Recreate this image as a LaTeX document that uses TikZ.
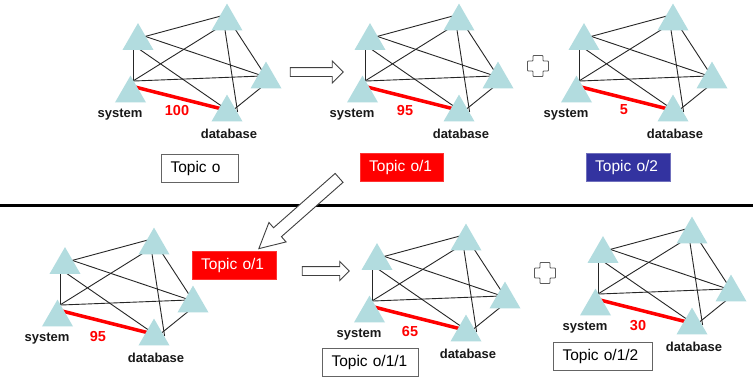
\documentclass[tikz,border=0pt]{standalone}
\usepackage{fontspec}
\setmainfont{Liberation Sans}
\usetikzlibrary{shapes.geometric,shapes.arrows}
\definecolor{tricol}{RGB}{178,220,223}
\definecolor{topicblue}{RGB}{51,51,160}
\definecolor{boxgray}{RGB}{100,100,100}
\tikzset{
  tri/.style={regular polygon, regular polygon sides=3, minimum size=35.8pt, inner sep=0pt, fill=tricol, draw=none},
  netline/.style={draw=black!85, line width=0.9pt},
  rededge/.style={draw=red, line width=3.5pt},
  lbl/.style={font=\fontsize{13}{15}\selectfont\bfseries, text=black!90, inner sep=0pt},
  num/.style={font=\fontsize{14.5}{16}\selectfont\bfseries, text=red, inner sep=0pt},
  topic/.style={font=\fontsize{15.5}{18}\selectfont, minimum height=28pt, inner xsep=9pt, inner ysep=0pt, align=left, anchor=west},
  topicw/.style={topic, draw=boxgray, line width=1pt, fill=white, text=black},
  topicr/.style={topic, fill=red, draw=red!80!white, text=white},
  topicb/.style={topic, fill=topicblue, draw=topicblue!70!white, text=white},
  hollow/.style={single arrow, draw=black!75, fill=white, line width=0.9pt, inner xsep=0pt},
  plusst/.style={draw=black!65, fill=white, line width=0.9pt, rounded corners=0.8pt},
}
\newcommand\netgraph[5]{% #1 prefix, #2 dx, #3 dy, #4 number, #5 number position (absolute)
\begin{scope}[shift={(#2,#3)}]
  % ports
  \coordinate (#1SA) at (133,85);    \coordinate (#1AS) at (133,45);
  \coordinate (#1ST) at (129.6,83.1);\coordinate (#1TS) at (221.4,25.9);
  \coordinate (#1SR) at (129,81.2);  \coordinate (#1RS) at (267,75.8);
  \coordinate (#1SD) at (134.1,86.8);\coordinate (#1DS) at (222.9,109.2);
  \coordinate (#1AT) at (143.1,37);  \coordinate (#1TA) at (220.9,16);
  \coordinate (#1AR) at (143.2,35.7);\coordinate (#1RA) at (263.8,76.3);
  \coordinate (#1AD) at (135.7,46.7);\coordinate (#1DA) at (226.3,109.3);
  \coordinate (#1TD) at (224.4,26);  \coordinate (#1DT) at (237.6,112);
  \coordinate (#1TR) at (232.8,25.6);\coordinate (#1RT) at (265.2,75.4);
  \coordinate (#1RD) at (266.1,83.5);\coordinate (#1DR) at (233.9,109.5);
  % connectors
  \draw[netline] (#1SA) -- (#1AS);
  \draw[netline] (#1ST) -- (#1TS);
  \draw[netline] (#1SR) -- (#1RS);
  \draw[netline] (#1AT) -- (#1TA);
  \draw[netline] (#1AR) -- (#1RA);
  \draw[netline] (#1AD) -- (#1DA);
  \draw[netline] (#1TD) -- (#1DT);
  \draw[netline] (#1TR) -- (#1RT);
  \draw[netline] (#1RD) -- (#1DR);
  \draw[rededge] (#1SD) -- (#1DS);
  % nodes
  \node[tri] (#1A) at (138,41) {};
  \node[tri] (#1T) at (227,21.5) {};
  \node[tri] (#1R) at (266,79.5) {};
  \node[tri] (#1D) at (227,112.5) {};
  \node[tri] (#1S) at (130.5,93.5) {};
  \node[lbl] (#1sys) at (120,115) {system};
  \node[lbl] (#1db) at (229,134) {database};
\end{scope}
\node[num] (#1num) at #5 {#4};
}
\begin{document}
\begin{tikzpicture}[x=1pt,y=-1pt]
\useasboundingbox (0,0) rectangle (753,378);
\fill[white] (0,0) rectangle (753,378);

% separator
\coordinate (sepL) at (0,205);
\coordinate (sepR) at (753,205);
\draw[line width=3pt, black] (sepL) -- (sepR);

% graphs
\netgraph{ga}{0}{0}{100}{(177,111)}
\netgraph{gb}{232}{0}{95}{(405,111)}
\netgraph{gc}{446}{0}{5}{(624,110)}
\netgraph{gd}{-73}{224}{95}{(98,337)}
\netgraph{ge}{239}{220}{65}{(410,332)}
\netgraph{gf}{465}{213}{30}{(638,326)}

% topic boxes
\node[topicw, text width=59pt] (t0) at (161,168) {Topic o};
\node[topicr, text width=65pt] (t1) at (360,167) {Topic o/1};
\node[topicb, text width=66pt] (t2) at (586,167) {Topic o/2};
\node[topicr, text width=66pt] (t1b) at (192,265) {Topic o/1};
\node[topicw, text width=78pt] (t11) at (322,362.5) {Topic o/1/1};
\node[topicw, text width=81pt] (t12) at (553,356) {Topic o/1/2};

% hollow arrows
\node[hollow, minimum height=53pt, inner ysep=4pt, single arrow head extend=6.5pt] (arrTop) at (314.5,72) {};
\node[hollow, minimum height=107pt, inner ysep=5.5pt, single arrow head extend=7pt, single arrow tip angle=55, rotate=221.4] (arrDiag) at (303.25,209.5) {};
\node[hollow, minimum height=47pt, inner ysep=4pt, single arrow head extend=5pt] (arrBot) at (323.5,271) {};

% plus signs
\coordinate (plusTop) at (538,66);
\coordinate (plusBot) at (545,273);
\draw[plusst] (plusTop) ++(-5,-10.5) -- ++(10,0) -- ++(0,5.5) -- ++(5.5,0) -- ++(0,10) -- ++(-5.5,0) -- ++(0,5.5) -- ++(-10,0) -- ++(0,-5.5) -- ++(-5.5,0) -- ++(0,-10) -- ++(5.5,0) -- cycle;
\draw[plusst] (plusBot) ++(-5,-10.5) -- ++(10,0) -- ++(0,5.5) -- ++(5.5,0) -- ++(0,10) -- ++(-5.5,0) -- ++(0,5.5) -- ++(-10,0) -- ++(0,-5.5) -- ++(-5.5,0) -- ++(0,-10) -- ++(5.5,0) -- cycle;
\end{tikzpicture}
\end{document}
